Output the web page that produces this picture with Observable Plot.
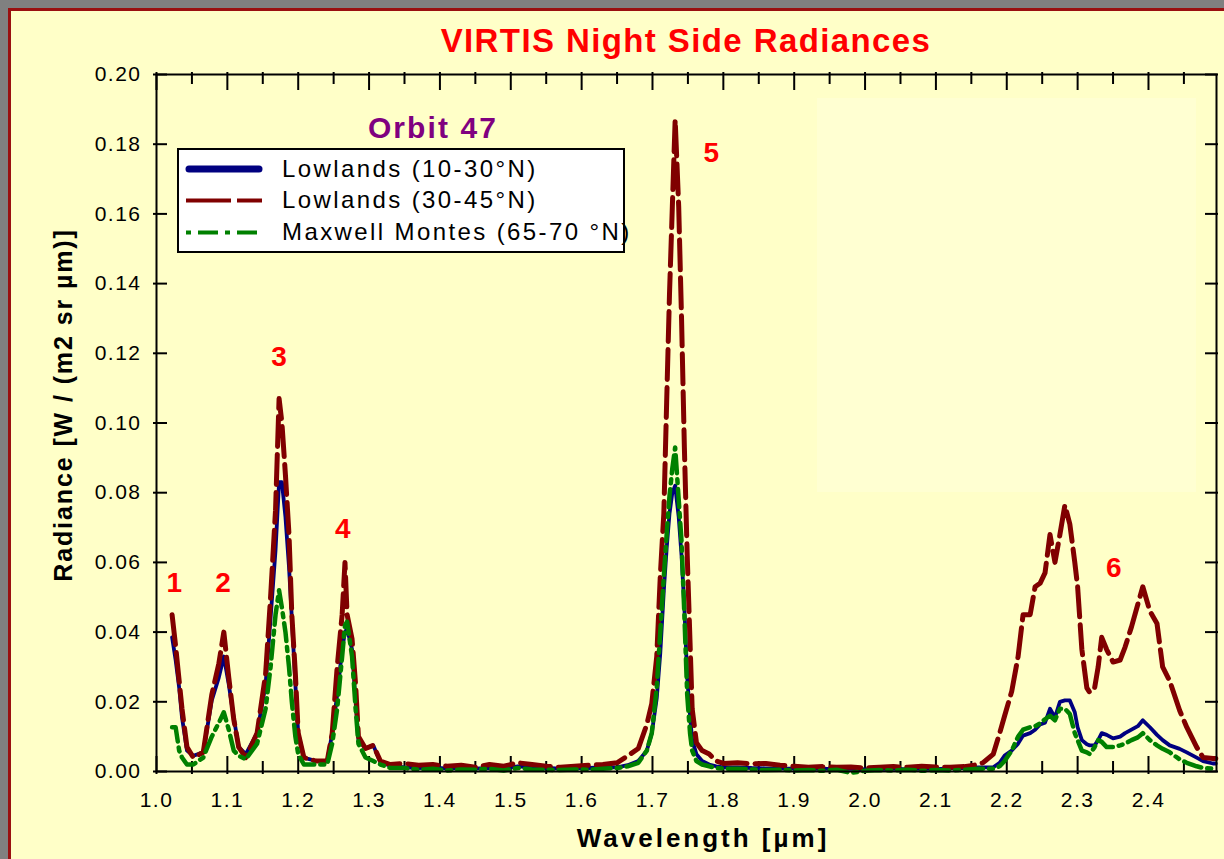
<!DOCTYPE html>
<html><head><meta charset="utf-8">
<script src="https://cdn.jsdelivr.net/npm/d3@7"></script>
<script src="https://cdn.jsdelivr.net/npm/@observablehq/plot@0.6"></script>
<style>
html,body{margin:0;padding:0;}
body{width:1224px;height:859px;background:#808080;position:relative;overflow:hidden;font-family:"Liberation Sans",Arial,sans-serif;}
#page{position:absolute;left:8px;top:8px;right:0;bottom:0;background:#FFFFC8;border-left:3px solid #9a1010;border-top:3px solid #9a1010;}
#glow{position:absolute;left:817px;top:98px;width:379px;height:394px;background:#FFFFD2;}
#chart{position:absolute;left:0;top:0;}
.t{position:absolute;white-space:nowrap;line-height:1;}
#legend{position:absolute;left:177px;top:148px;width:448px;height:105px;box-sizing:border-box;border:2px solid #000;background:#fff;}
#legsvg{position:absolute;left:0;top:0;pointer-events:none;}
#chart svg g[aria-label="y-axis tick label"] text,#chart svg g[aria-label="x-axis tick label"] text{letter-spacing:1.5px;}
</style></head><body>
<div id="page"></div>
<div id="glow"></div>
<div id="chart"></div>
<div id="legend"></div>
<svg id="legsvg" width="1224" height="859"></svg>
<script>
// ---------- data ----------
const wavelength = [
1.022,1.027,1.032,1.036,1.043,1.052,1.066,1.078,1.088,1.095,1.102,1.109,1.116,1.126,1.142,1.154,1.161,1.168,1.173,1.177,1.182,1.187,1.191,1.196,1.200,1.208,1.225,1.241,1.248,1.255,1.262,1.266,1.269,1.276,1.281,1.285,1.295,1.306,1.316,1.330,
1.35,1.37,1.39,1.41,1.43,1.45,1.47,1.49,1.51,1.53,1.55,1.57,1.59,1.61,1.63,1.65,1.665,
1.680,1.692,1.699,1.706,1.711,1.716,1.720,1.724,1.728,1.732,1.737,1.741,1.745,1.749,1.753,1.756,1.762,1.770,1.780,1.790,1.800,
1.82,1.84,1.86,1.88,1.90,1.92,1.94,1.96,1.98,2.00,2.02,2.04,2.06,2.08,2.10,2.12,2.14,2.16,
2.167,2.181,2.190,2.197,2.207,2.216,2.223,2.233,2.240,2.247,2.254,2.261,2.268,2.275,2.282,2.289,2.296,2.300,2.306,2.313,2.317,2.324,2.329,2.334,2.341,2.350,2.360,2.367,2.376,2.385,2.392,2.402,2.412,2.420,2.430,2.444,2.454,2.468,2.477,2.491,2.495];

const lowlands10_30 = [
0.0385,0.032,0.024,0.0155,0.006,0.0045,0.0055,0.0204,0.027,0.033,0.025,0.0155,0.007,0.005,0.011,0.025,0.044,0.0635,0.083,0.083,0.073,0.0587,0.044,0.025,0.011,0.004,0.003,0.003,0.011,0.022,0.035,0.040,0.041,0.035,0.020,0.009,0.0066,0.0075,0.0026,0.0017,
0.0012,0.001,0.0012,0.0008,0.001,0.0008,0.001,0.0008,0.0015,0.0012,0.001,0.0008,0.001,0.001,0.0012,0.0012,0.0018,
0.003,0.006,0.011,0.021,0.034,0.052,0.064,0.074,0.080,0.082,0.073,0.062,0.047,0.027,0.016,0.009,0.005,0.003,0.002,0.0015,0.0012,
0.0012,0.001,0.0009,0.0008,0.0008,0.0007,0.0008,0.0006,0.0008,0.0006,0.0007,0.0008,0.0006,0.0008,0.0007,0.0009,0.001,0.0012,
0.0012,0.0012,0.0025,0.0046,0.006,0.008,0.0103,0.011,0.012,0.0135,0.014,0.018,0.0155,0.020,0.0204,0.0204,0.017,0.0127,0.009,0.0078,0.0075,0.0075,0.009,0.011,0.0105,0.0095,0.010,0.011,0.012,0.013,0.0147,0.0127,0.0105,0.009,0.0075,0.0065,0.0055,0.004,0.003,0.0023,0.0023];

const lowlands30_45 = [
0.045,0.036,0.026,0.018,0.007,0.004,0.0055,0.022,0.031,0.040,0.027,0.015,0.007,0.004,0.011,0.028,0.050,0.075,0.107,0.100,0.085,0.068,0.045,0.028,0.011,0.004,0.003,0.003,0.011,0.030,0.045,0.060,0.045,0.038,0.025,0.010,0.0066,0.0075,0.003,0.002,
0.0023,0.0018,0.002,0.0015,0.0018,0.0012,0.002,0.0015,0.0025,0.002,0.0015,0.0012,0.0015,0.0018,0.002,0.0025,0.0045,
0.0066,0.0135,0.0195,0.033,0.056,0.074,0.106,0.137,0.162,0.187,0.162,0.130,0.093,0.062,0.037,0.018,0.0083,0.006,0.005,0.003,0.0023,
0.0025,0.0022,0.0023,0.0018,0.0015,0.0012,0.0014,0.0012,0.0013,0.001,0.0012,0.0014,0.0012,0.0015,0.0013,0.0012,0.0014,0.002,
0.0026,0.005,0.011,0.016,0.023,0.033,0.045,0.045,0.053,0.054,0.057,0.068,0.060,0.068,0.0764,0.071,0.060,0.053,0.035,0.024,0.0227,0.024,0.030,0.0385,0.035,0.0314,0.032,0.0357,0.0415,0.048,0.053,0.046,0.0425,0.030,0.026,0.0175,0.0127,0.007,0.004,0.0037,0.0037];

const maxwellMontes = [
0.0127,0.0127,0.006,0.004,0.002,0.002,0.004,0.010,0.014,0.017,0.012,0.006,0.0045,0.0035,0.008,0.018,0.030,0.045,0.052,0.047,0.040,0.030,0.020,0.010,0.005,0.002,0.002,0.002,0.008,0.018,0.033,0.042,0.043,0.033,0.018,0.008,0.004,0.003,0.002,0.001,
0.001,0.0005,0.0008,0.0003,0.0006,0.0005,0.0008,0.0003,0.001,0.0006,0.0005,0.0004,0.0006,0.0005,0.0008,0.001,0.0015,
0.0025,0.006,0.011,0.024,0.040,0.056,0.068,0.079,0.087,0.093,0.078,0.066,0.045,0.022,0.011,0.006,0.003,0.002,0.0015,0.001,0.0008,
0.0008,0.0006,0.0004,0.0005,0.0003,0.0004,0.0002,0.0005,-0.0004,0.0002,0.0004,0.0003,0.0005,0.0002,0.0004,0.0003,0.0005,0.0008,
0.0008,0.0008,0.0015,0.003,0.006,0.010,0.012,0.0127,0.013,0.0138,0.015,0.016,0.0147,0.018,0.018,0.0165,0.011,0.009,0.006,0.0055,0.005,0.007,0.009,0.0085,0.007,0.007,0.0075,0.008,0.009,0.0098,0.011,0.009,0.0075,0.0065,0.0055,0.0035,0.0025,0.0015,0.001,0.0008,0.0008];

const seriesNames = ["Lowlands (10-30°N)", "Lowlands (30-45°N)", "Maxwell Montes (65-70 °N)"];
const yTicks = [0,0.02,0.04,0.06,0.08,0.10,0.12,0.14,0.16,0.18,0.20];
const xMajorTicks = [1.0,1.1,1.2,1.3,1.4,1.5,1.6,1.7,1.8,1.9,2.0,2.1,2.2,2.3,2.4];
const xMinorTicks = [1.05,1.15,1.25,1.35,1.45,1.55,1.65,1.75,1.85,1.95,2.05,2.15,2.25,2.35,2.45];
const peakNames = ["1","2","3","4","5","6"];
const peakWavelength = [1.025,1.094,1.173,1.263,1.783,2.351];
const peakRadiance = [0.054,0.054,0.119,0.0696,0.1776,0.0584];

// ---------- chart ----------
const W = 1224, H = 859, mL = 156, mR = 8, mT = 74, mB = 88;
const pw = W - mL - mR, ph = H - mT - mB;
const rows = wavelength.map((w, i) => ({w, a: lowlands10_30[i], b: lowlands30_45[i], c: maxwellMontes[i]}));
const peaks = peakNames.map((n, i) => ({n, x: peakWavelength[i], y: peakRadiance[i]}));

const chart = Plot.plot({
  width: W, height: H, marginLeft: mL, marginRight: mR, marginTop: mT, marginBottom: mB,
  style: {background: "transparent", fontFamily: "'Liberation Sans', Arial, sans-serif", color: "black", overflow: "visible"},
  x: {domain: [1.0, 2.496]},
  y: {domain: [0, 0.2]},
  marks: [
    Plot.axisY(yTicks, {tickSize: 0, tickPadding: 15, tickFormat: d => d.toFixed(2), fontSize: 21, label: null}),
    Plot.axisX(xMajorTicks, {tickSize: 0, tickPadding: 21, tickFormat: d => d.toFixed(1), fontSize: 21, label: null}),
    Plot.tickY(yTicks, {insetLeft: -3, insetRight: pw - 11, stroke: "black", strokeWidth: 2}),
    Plot.tickY(yTicks, {insetLeft: pw - 11, insetRight: -2, stroke: "black", strokeWidth: 2}),
    Plot.tickX(xMajorTicks, {insetTop: -2, insetBottom: ph - 16, stroke: "black", strokeWidth: 2}),
    Plot.tickX(xMinorTicks, {insetTop: -2, insetBottom: ph - 10, stroke: "black", strokeWidth: 2}),
    Plot.tickX(xMajorTicks, {insetTop: ph - 15, insetBottom: -3, stroke: "black", strokeWidth: 2}),
    Plot.tickX(xMinorTicks, {insetTop: ph - 10, insetBottom: -3, stroke: "black", strokeWidth: 2}),
    Plot.line(rows, {x: "w", y: "a", stroke: "#000080", strokeWidth: 3.8}),
    Plot.line(rows, {x: "w", y: "b", stroke: "#800000", strokeWidth: 5, strokeDasharray: "30,8"}),
    Plot.line(rows, {x: "w", y: "c", stroke: "#008000", strokeWidth: 4.5, strokeDasharray: "18,6,4,6"}),
    Plot.text(peaks, {x: "x", y: "y", text: "n", fill: "#ff0000", fontWeight: "bold", fontSize: 28}),
    Plot.frame({stroke: "black", strokeWidth: 2})
  ]
});
document.getElementById("chart").appendChild(chart);

// ---------- text ----------
function place(txt, o) {
  const d = document.createElement("div");
  d.className = "t";
  d.textContent = txt;
  d.style.fontSize = o.size + "px";
  d.style.top = (o.base - 0.8465 * o.size) + "px";
  d.style.left = o.x + "px";
  if (o.weight) d.style.fontWeight = o.weight;
  d.style.color = o.color || "#000";
  if (o.ls) d.style.letterSpacing = o.ls + "px";
  if (o.center) d.style.transform = "translateX(-50%)";
  document.body.appendChild(d);
  return d;
}
place("VIRTIS Night Side Radiances", {x: 686, base: 52, size: 33, weight: "bold", color: "#ff0000", ls: 1.4, center: true});
place("Wavelength [µm]", {x: 703, base: 847, size: 26, weight: "bold", ls: 3, center: true});
const yl = document.createElement("div");
yl.className = "t";
yl.textContent = "Radiance [W / (m2 sr µm)]";
Object.assign(yl.style, {fontSize: "25px", fontWeight: "bold", letterSpacing: "1.9px", left: "63px", top: "405px",
  transform: "translate(-50%,-50%) rotate(-90deg)", color: "#000"});
document.body.appendChild(yl);
place("Orbit 47", {x: 433, base: 138, size: 30, weight: "bold", color: "#800080", ls: 2.1, center: true});

// legend
const legBase = [177, 208, 240];
seriesNames.forEach((s, i) => place(s, {x: 282, base: legBase[i], size: 24, ls: 2.4}));
const ls = d3.select("#legsvg");
const legY = [169, 200.5, 232.5];
ls.append("line").attr("x1", 189).attr("x2", 259).attr("y1", legY[0]).attr("y2", legY[0])
  .attr("stroke", "#000080").attr("stroke-width", 7).attr("stroke-linecap", "round");
ls.append("line").attr("x1", 186).attr("x2", 262).attr("y1", legY[1]).attr("y2", legY[1])
  .attr("stroke", "#800000").attr("stroke-width", 4).attr("stroke-dasharray", "45,6");
ls.append("line").attr("x1", 186).attr("x2", 262).attr("y1", legY[2]).attr("y2", legY[2])
  .attr("stroke", "#008000").attr("stroke-width", 4).attr("stroke-dasharray", "5,7,20,7");
</script>
</body></html>
